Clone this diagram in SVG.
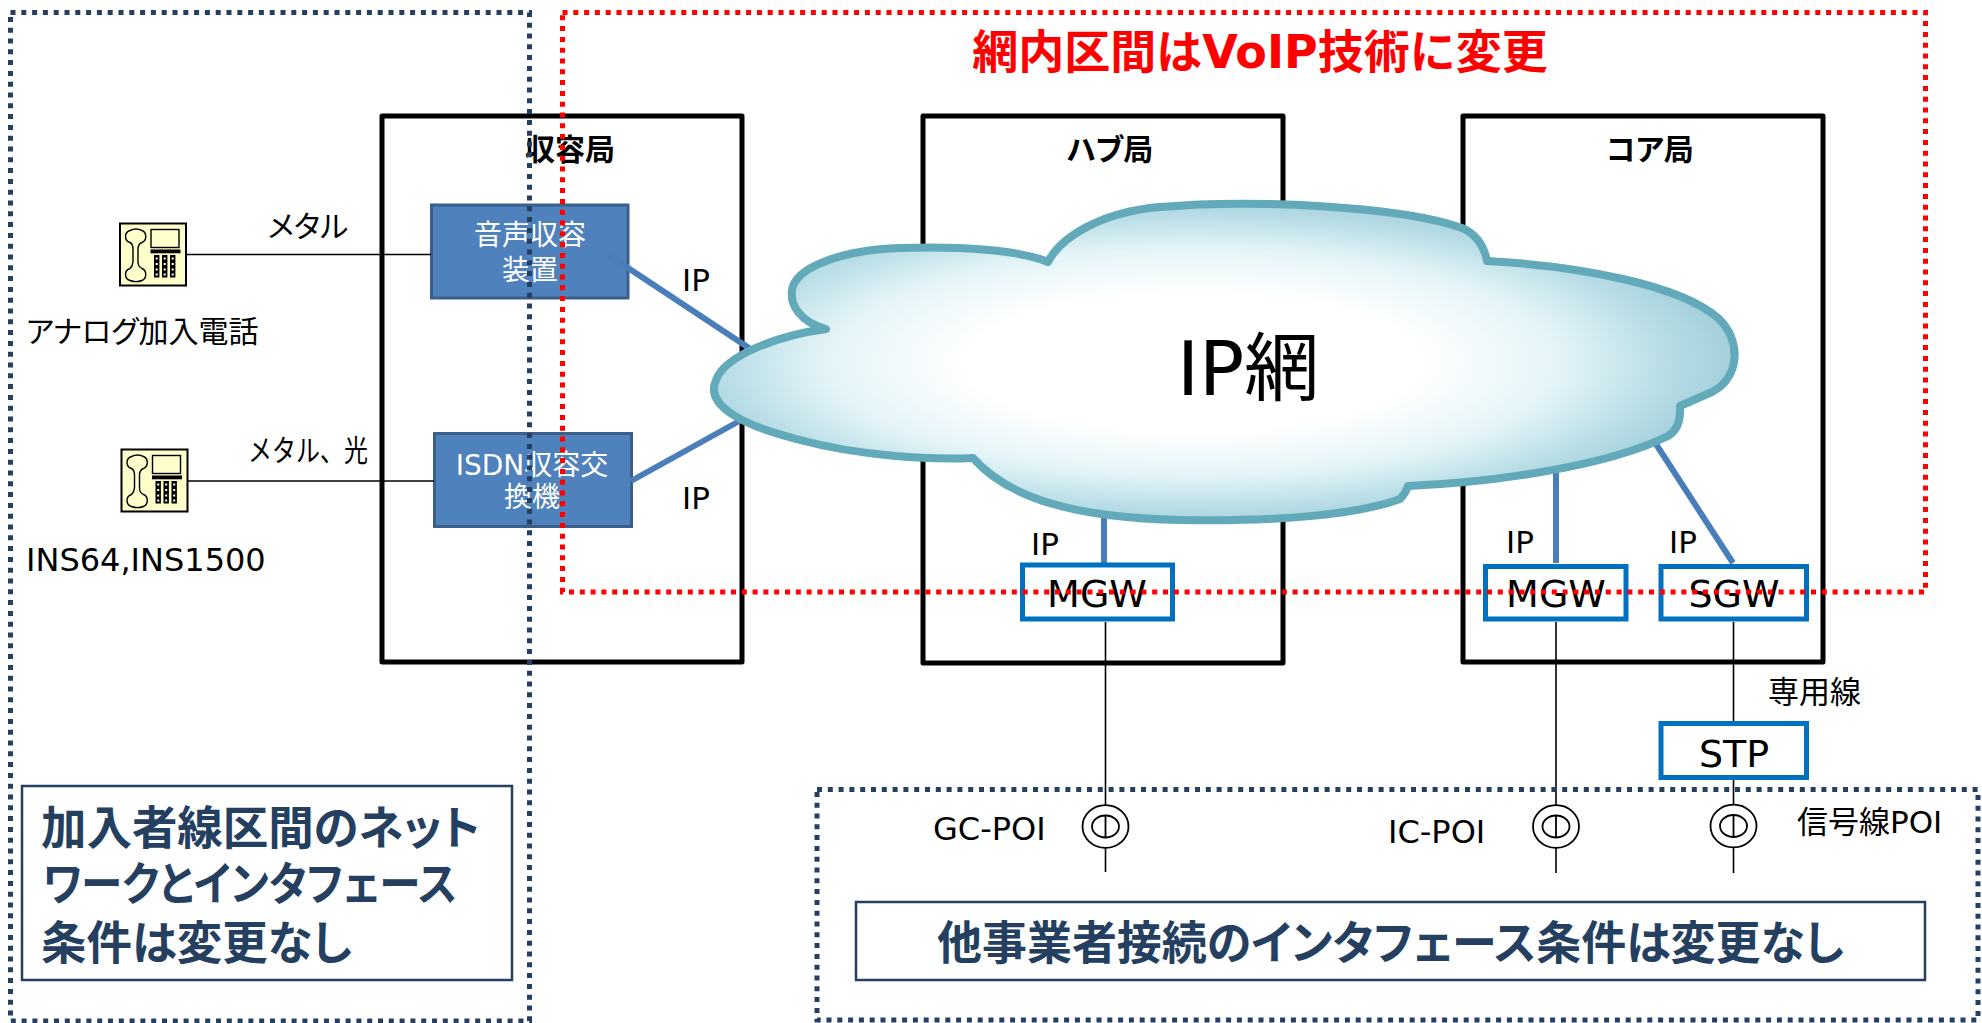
<svg xmlns="http://www.w3.org/2000/svg" xmlns:xlink="http://www.w3.org/1999/xlink" width="1982" height="1023" viewBox="0 0 1982 1023">
  <style>
    .station { fill: none; stroke: #000; stroke-width: 5; stroke-linejoin: round; }
    .equip { fill: #4F81BD; stroke: #3A5F8B; stroke-width: 3; }
    .gw { fill: #fff; stroke: #0070C0; stroke-width: 5; }
    .wire { stroke: #000; stroke-width: 1.6; fill: none; }
    .ip { stroke: #4A7EBB; stroke-width: 6; fill: none; }
    .zone-navy { fill: none; stroke: #243F60; stroke-width: 5; stroke-dasharray: 5 5.8; }
    .zone-red { fill: none; stroke: #FF0000; stroke-width: 5; stroke-dasharray: 5 5.8; }
    .note { fill: #fff; stroke: #243F60; stroke-width: 2.5; }
    .lat { font-family: "DejaVu Sans", "Noto Sans CJK JP", sans-serif; fill: #000; }
    .jp { font-family: "Noto Sans CJK JP", sans-serif; font-feature-settings: "palt"; fill: #000; }
    .full { font-feature-settings: normal; }
    .bold { font-weight: bold; }
    .white { fill: #fff; }
    .navy { fill: #243F60; }
    .mid { text-anchor: middle; }
  </style>
  <defs>
    <radialGradient id="cloudFill" cx="0.47" cy="0.5" r="0.55">
      <stop offset="0" stop-color="#FFFFFF"/>
      <stop offset="0.4" stop-color="#FFFFFF"/>
      <stop offset="0.65" stop-color="#E4F4F8"/>
      <stop offset="0.85" stop-color="#B6DCE5"/>
      <stop offset="1" stop-color="#9CCBD7"/>
    </radialGradient>
    <!-- telephone terminal icon, 66 x 62 -->
    <g id="phone">
      <rect x="0" y="0" width="66" height="62" fill="#FFFFCC" stroke="#000" stroke-width="2"/>
      <path d="M10 7 C14 5 18 5 22 7 C27 9 27 17 22 19 C19 20 18 22 18 26 L18 38 C18 42 19 43 22 45 C27 47 27 55 22 57 C18 58.5 14 58.5 10 57 C4 55 4 47 10 45 C12 43 13 42 13 38 L13 26 C13 22 12 20 10 19 C4 17 4 9 10 7 Z" fill="#FFFFCC" stroke="#000" stroke-width="1.4"/>
      <rect x="31" y="6" width="28" height="18" fill="#FFFFCC" stroke="#000" stroke-width="1.4"/>
      <rect x="30.5" y="26" width="30" height="3.8" fill="#000"/>
      <rect x="34" y="31.5" width="5.4" height="22.5" fill="#000"/>
      <rect x="42" y="31.5" width="5.4" height="22.5" fill="#000"/>
      <rect x="50" y="31.5" width="5.4" height="22.5" fill="#000"/>
      <g fill="#fff">
        <rect x="35.7" y="34" width="2" height="2"/><rect x="35.7" y="39.5" width="2" height="2"/><rect x="35.7" y="45" width="2" height="2"/><rect x="35.7" y="50" width="2" height="2"/>
        <rect x="43.7" y="34" width="2" height="2"/><rect x="43.7" y="39.5" width="2" height="2"/><rect x="43.7" y="45" width="2" height="2"/><rect x="43.7" y="50" width="2" height="2"/>
        <rect x="51.7" y="34" width="2" height="2"/><rect x="51.7" y="39.5" width="2" height="2"/><rect x="51.7" y="45" width="2" height="2"/><rect x="51.7" y="50" width="2" height="2"/>
      </g>
    </g>
    <!-- point-of-interconnection symbol -->
    <g id="poi">
      <ellipse cx="0" cy="0" rx="23" ry="21.3" fill="#fff" stroke="#000" stroke-width="1.8"/>
      <ellipse cx="0" cy="0" rx="13.5" ry="11" fill="none" stroke="#000" stroke-width="1.8"/>
      <line x1="0" y1="-11" x2="0" y2="11" stroke="#000" stroke-width="1.8"/>
    </g>
  </defs>

  <rect width="1982" height="1023" fill="#fff"/>

  <!-- title -->
  <text class="jp bold mid full" x="1260" y="68" font-size="46" style="fill:#FF0000">網内区間は<tspan font-family="DejaVu Sans">VoIP</tspan>技術に変更</text>

  <!-- offices -->
  <g id="office-shuyo">
    <rect class="station" x="382" y="116" width="360" height="546"/>
    <text class="jp bold mid" x="570" y="160" font-size="30">収容局</text>
  </g>
  <g id="office-hub">
    <rect class="station" x="923" y="116" width="360" height="547"/>
    <text class="jp bold mid" x="1110" y="160" font-size="30">ハブ局</text>
  </g>
  <g id="office-core">
    <rect class="station" x="1463" y="116" width="360" height="546"/>
    <text class="jp bold mid" x="1650" y="160" font-size="30">コア局</text>
  </g>

  <!-- subscriber equipment -->
  <g id="voice-unit">
    <rect class="equip" x="431.5" y="205" width="196.5" height="93"/>
    <text class="jp white mid" x="530" y="245" font-size="28">音声収容</text>
    <text class="jp white mid" x="530" y="280" font-size="28">装置</text>
  </g>
  <g id="isdn-switch">
    <rect class="equip" x="434.5" y="433.5" width="197" height="93"/>
    <text class="lat white mid" x="532" y="475" font-size="28">ISDN<tspan font-family="Noto Sans CJK JP">収容交</tspan></text>
    <text class="jp white mid" x="532" y="507" font-size="28">換機</text>
  </g>

  <!-- connectors -->
  <g id="connectors">
    <line class="wire" x1="187" y1="254.5" x2="431" y2="254.5"/>
    <line class="wire" x1="188" y1="481" x2="434" y2="481"/>
    <line class="ip" x1="607" y1="254" x2="752" y2="350"/>
    <line class="ip" x1="631" y1="481" x2="752" y2="414"/>
    <line class="ip" x1="1104" y1="512" x2="1104" y2="563"/>
    <line class="ip" x1="1556" y1="468" x2="1556" y2="563"/>
    <line class="ip" x1="1654" y1="441" x2="1733" y2="563"/>
    <line class="wire" x1="1105.5" y1="622" x2="1105.5" y2="872"/>
    <line class="wire" x1="1556" y1="622" x2="1556" y2="873"/>
    <line class="wire" x1="1733.5" y1="622" x2="1733.5" y2="721"/>
    <line class="wire" x1="1733.5" y1="780" x2="1733.5" y2="873"/>
  </g>

  <!-- IP network cloud -->
  <g id="ip-cloud">
    <path d="M826 329 C800 322 790 305 792 290 C795 268 840 250 900 248 C960 246 1020 250 1048 262 C1060 238 1100 212 1160 207 C1250 199 1400 206 1462 228 C1476 234 1484 246 1487 261 C1580 266 1680 285 1718 318 C1742 340 1740 378 1712 392 L1680 406 C1681 420 1678 430 1668 436 C1610 465 1500 482 1408 486 C1406 492 1404 495 1400 499 C1360 514 1280 522 1180 520 C1080 518 1010 500 973 458 C930 460 860 456 800 440 C740 425 705 405 716 380 C725 355 780 335 826 329 Z" fill="url(#cloudFill)" stroke="#62A9BA" stroke-width="8" stroke-linejoin="round"/>
    <text class="lat" x="1177" y="395" font-size="75">IP<tspan font-family="Noto Sans CJK JP">網</tspan></text>
  </g>

  <!-- phones -->
  <g id="analog-phone">
    <use xlink:href="#phone" transform="translate(120,223.5)"/>
    <text class="jp" x="26" y="342" font-size="30">アナログ加入電話</text>
  </g>
  <g id="isdn-phone">
    <use xlink:href="#phone" transform="translate(121.5,449.5)"/>
    <text class="lat" x="26" y="571" font-size="32">INS64,INS1500</text>
  </g>

  <!-- gateways -->
  <g id="hub-mgw">
    <rect class="gw" x="1022.5" y="565" width="150" height="54"/>
    <text class="lat mid" x="1097" y="607" font-size="38">MGW</text>
  </g>
  <g id="core-mgw">
    <rect class="gw" x="1485.5" y="566.5" width="140.5" height="52.5"/>
    <text class="lat mid" x="1556" y="607" font-size="38">MGW</text>
  </g>
  <g id="core-sgw">
    <rect class="gw" x="1661" y="566.5" width="145.5" height="52.5"/>
    <text class="lat mid" x="1734" y="607" font-size="38">SGW</text>
  </g>
  <g id="stp">
    <rect class="gw" x="1661" y="723.5" width="145.5" height="54"/>
    <text class="lat mid" x="1734" y="767" font-size="38">STP</text>
  </g>

  <!-- interconnection points -->
  <g id="gc-poi">
    <use xlink:href="#poi" transform="translate(1105.5,826.5)"/>
    <text class="lat" x="933" y="840" font-size="32">GC-POI</text>
  </g>
  <g id="ic-poi">
    <use xlink:href="#poi" transform="translate(1556,826.5)"/>
    <text class="lat" x="1388" y="843" font-size="32">IC-POI</text>
  </g>
  <g id="signal-poi">
    <use xlink:href="#poi" transform="translate(1733.5,826)"/>
    <text class="lat" x="1797" y="833" font-size="31"><tspan font-family="Noto Sans CJK JP">信号線</tspan>POI</text>
  </g>

  <!-- line labels -->
  <g id="line-labels">
    <text class="jp mid" x="308" y="237" font-size="30">メタル</text>
    <text class="jp full" x="248" y="461" font-size="30" textLength="120" lengthAdjust="spacingAndGlyphs">メタル、光</text>
    <text class="lat" x="682" y="291" font-size="31">IP</text>
    <text class="lat" x="682" y="509" font-size="31">IP</text>
    <text class="lat" x="1031" y="555" font-size="31">IP</text>
    <text class="lat" x="1506" y="553" font-size="31">IP</text>
    <text class="lat" x="1669" y="553" font-size="31">IP</text>
    <text class="jp" x="1768" y="703" font-size="31">専用線</text>
  </g>

  <!-- notes -->
  <g id="note-subscriber">
    <rect class="note" x="22" y="786" width="490" height="194"/>
    <text class="jp bold navy" x="41" y="844" font-size="46" textLength="439" lengthAdjust="spacingAndGlyphs">加入者線区間のネット</text>
    <text class="jp bold navy" x="43" y="900" font-size="46" textLength="414" lengthAdjust="spacingAndGlyphs">ワークとインタフェース</text>
    <text class="jp bold navy" x="41" y="959" font-size="46" textLength="311" lengthAdjust="spacingAndGlyphs">条件は変更なし</text>
  </g>
  <g id="note-interconnect">
    <rect class="note" x="856" y="902" width="1069" height="78"/>
    <text class="jp bold navy" x="937" y="959" font-size="46" textLength="907" lengthAdjust="spacingAndGlyphs">他事業者接続のインタフェース条件は変更なし</text>
  </g>

  <!-- zone outlines -->
  <g id="zones">
    <rect class="zone-navy" x="10.5" y="12.5" width="519" height="1008.5"/>
    <rect class="zone-red" x="562.5" y="12.5" width="1363" height="579.5"/>
    <rect class="zone-navy" x="817" y="789.5" width="1161" height="230.5"/>
  </g>
</svg>
